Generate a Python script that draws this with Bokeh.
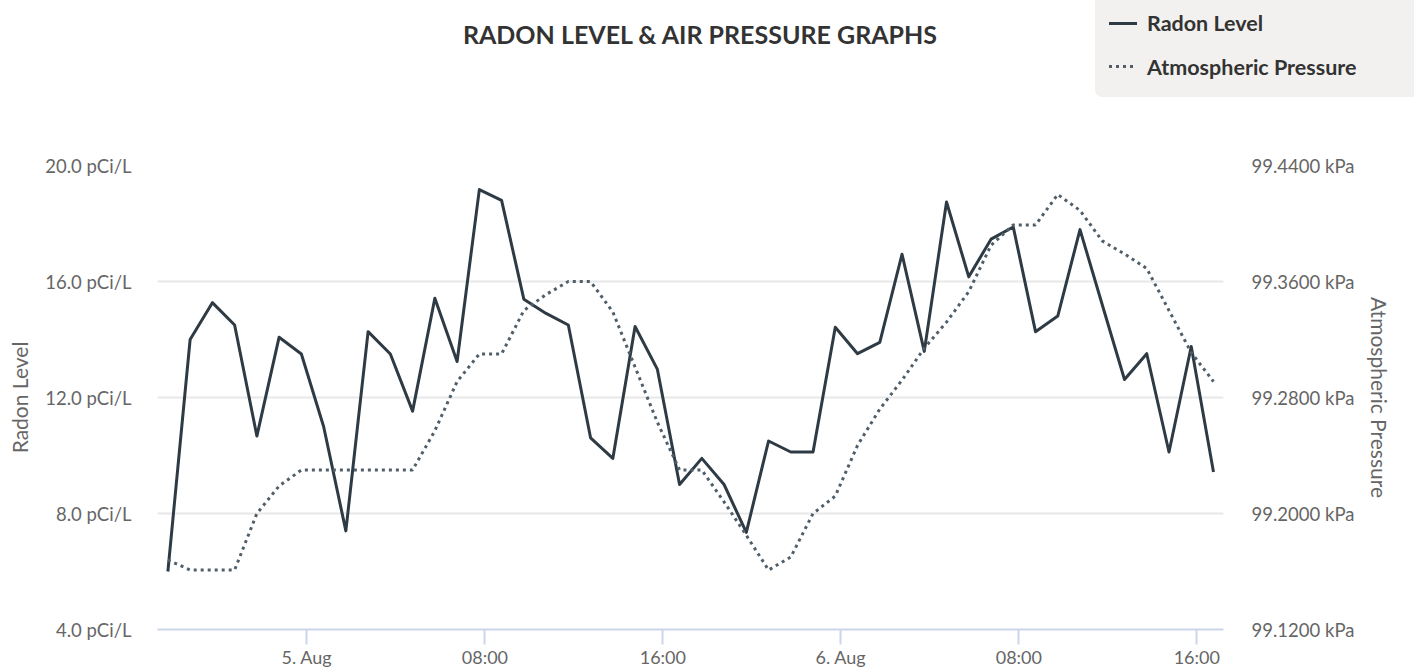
from datetime import datetime, timedelta
from bokeh.plotting import figure
from bokeh.layouts import column
from bokeh.models import (Range1d, LinearAxis, FixedTicker, PrintfTickFormatter, Div)
from bokeh.embed import file_html
from bokeh.resources import INLINE

# ---------------- data ----------------
start_time = datetime(2019, 8, 4, 17, 45)
times = [start_time + timedelta(hours=i) for i in range(48)]

radon = [6.0, 14.0, 15.27, 14.5, 10.67, 14.08, 13.5, 11.0, 7.4, 14.27,
         13.5, 11.53, 15.42, 13.24, 19.17, 18.8, 15.39, 14.9, 14.5, 10.61,
         9.9, 14.45, 12.98, 9.0, 9.9, 9.0, 7.35, 10.5, 10.12, 10.12,
         14.42, 13.51, 13.9, 16.94, 13.59, 18.74, 16.16, 17.46, 17.88, 14.27,
         14.81, 17.79, 15.2, 12.62, 13.51, 10.12, 13.76, 9.43]

pressure = [99.168, 99.161, 99.161, 99.161, 99.200, 99.219, 99.230, 99.230, 99.230, 99.230,
            99.230, 99.230, 99.257, 99.291, 99.310, 99.310, 99.340, 99.351, 99.360, 99.360,
            99.339, 99.301, 99.263, 99.230, 99.230, 99.208, 99.185, 99.161, 99.170, 99.200,
            99.212, 99.247, 99.272, 99.292, 99.314, 99.332, 99.353, 99.385, 99.399, 99.399,
            99.420, 99.409, 99.388, 99.379, 99.369, 99.340, 99.311, 99.291]

x_tick_times = [datetime(2019, 8, 5, 0), datetime(2019, 8, 5, 8), datetime(2019, 8, 5, 16),
                datetime(2019, 8, 6, 0), datetime(2019, 8, 6, 8), datetime(2019, 8, 6, 16)]
x_tick_labels = ["5. Aug", "08:00", "16:00", "6. Aug", "08:00", "16:00"]

radon_ticks = [4, 8, 12, 16, 20]
pressure_ticks = [99.12, 99.20, 99.28, 99.36, 99.44]

series_names = ["Radon Level", "Atmospheric Pressure"]
chart_title = "RADON LEVEL & AIR PRESSURE GRAPHS"

# ---------------- styling ----------------
FONT = "Lato"
RADON_COLOR = "#2f3b44"
PRESS_COLOR = "#4f5e69"
LABEL_COLOR = "#666666"
AXIS_COLOR = "#ccd6eb"
GRID_COLOR = "#e8e8e8"
W = 1414
TOP_H = 110
MAIN_H = 560

epoch = datetime(1970, 1, 1)
def ms(t):
    return (t - epoch).total_seconds() * 1000.0

# ---------------- header (title + legend) as HTML ----------------
title_html = chart_title.replace("&", "&amp;")
header_html = f"""
<div style="position:relative;width:{W}px;height:{TOP_H}px;font-family:'{FONT}';margin:0;padding:0;">
  <div style="position:absolute;left:0;top:19px;width:1400px;text-align:center;
              font-weight:bold;font-size:25px;line-height:30px;color:#333333;white-space:nowrap;">{title_html}</div>
  <div style="position:absolute;left:1095px;top:0;width:319px;height:97px;background:#f2f1ef;
              border-bottom-left-radius:7px;">
    <div style="position:absolute;left:14px;top:21.8px;width:28px;height:3px;background:{RADON_COLOR};"></div>
    <div style="position:absolute;left:52px;top:10px;font-weight:bold;font-size:21.5px;line-height:26px;
                color:#333333;white-space:nowrap;">{series_names[0]}</div>
    <div style="position:absolute;left:14px;top:65.2px;width:28px;height:3px;
                background:repeating-linear-gradient(to right,{PRESS_COLOR} 0px,{PRESS_COLOR} 3px,transparent 3px,transparent 7px);"></div>
    <div style="position:absolute;left:52px;top:53.5px;font-weight:bold;font-size:21.5px;line-height:26px;
                color:#333333;white-space:nowrap;">{series_names[1]}</div>
  </div>
</div>
"""
header = Div(text=header_html, width=W, height=TOP_H, margin=0)

# ---------------- main chart ----------------
x_start = datetime(2019, 8, 4, 17, 17)
x_end = datetime(2019, 8, 6, 17, 12)

p = figure(width=W, height=MAIN_H, x_axis_type="datetime",
           x_range=Range1d(x_start, x_end), y_range=Range1d(4, 20),
           output_backend="svg", toolbar_location=None,
           min_border_left=157, min_border_right=191,
           min_border_top=55, min_border_bottom=39)
p.outline_line_color = None
p.background_fill_color = "white"
p.border_fill_color = "white"

p.extra_y_ranges = {"pres": Range1d(99.12, 99.44)}

p.xgrid.visible = False
p.ygrid.ticker = FixedTicker(ticks=radon_ticks)
p.ygrid.grid_line_color = GRID_COLOR
p.ygrid.grid_line_width = 2

xa = p.xaxis[0]
tick_ms = [ms(t) for t in x_tick_times]
xa.ticker = FixedTicker(ticks=tick_ms)
xa.major_label_overrides = {k: v for k, v in zip(tick_ms, x_tick_labels)}
xa.axis_line_color = AXIS_COLOR
xa.axis_line_width = 2
xa.major_tick_line_color = AXIS_COLOR
xa.major_tick_line_width = 2
xa.major_tick_out = 15
xa.major_tick_in = 0
xa.minor_tick_out = 0
xa.minor_tick_in = 0
xa.major_label_standoff = 1
xa.major_label_text_font = FONT
xa.major_label_text_font_size = "18px"
xa.major_label_text_color = LABEL_COLOR

ya = p.yaxis[0]
ya.ticker = FixedTicker(ticks=radon_ticks)
ya.formatter = PrintfTickFormatter(format="%.1f pCi/L")
ya.axis_line_color = None
ya.major_tick_line_color = None
ya.minor_tick_line_color = None
ya.major_tick_out = 0
ya.major_tick_in = 0
ya.major_label_standoff = 26
ya.major_label_text_font = FONT
ya.major_label_text_font_size = "18.5px"
ya.major_label_text_color = LABEL_COLOR
ya.axis_label = series_names[0]
ya.axis_label_text_font = FONT
ya.axis_label_text_font_style = "normal"
ya.axis_label_text_font_size = "21px"
ya.axis_label_text_color = LABEL_COLOR
ya.axis_label_standoff = 10

yr = LinearAxis(y_range_name="pres")
yr.ticker = FixedTicker(ticks=pressure_ticks)
yr.formatter = PrintfTickFormatter(format="%.4f kPa")
yr.axis_line_color = None
yr.major_tick_line_color = None
yr.minor_tick_line_color = None
yr.major_tick_out = 0
yr.major_tick_in = 0
yr.major_label_standoff = 28
yr.major_label_text_font = FONT
yr.major_label_text_font_size = "18.5px"
yr.major_label_text_color = LABEL_COLOR
yr.axis_label = series_names[1]
yr.axis_label_text_font = FONT
yr.axis_label_text_font_style = "normal"
yr.axis_label_text_font_size = "21px"
yr.axis_label_text_color = LABEL_COLOR
yr.axis_label_standoff = 10
p.add_layout(yr, "right")

p.line(times, radon, line_width=3, line_color=RADON_COLOR, line_join="round")
p.line(times, pressure, y_range_name="pres", line_width=3,
       line_color=PRESS_COLOR, line_dash="3 4")

layout = column(header, p, spacing=0)
open("out.html", "w").write(file_html(layout, INLINE))
